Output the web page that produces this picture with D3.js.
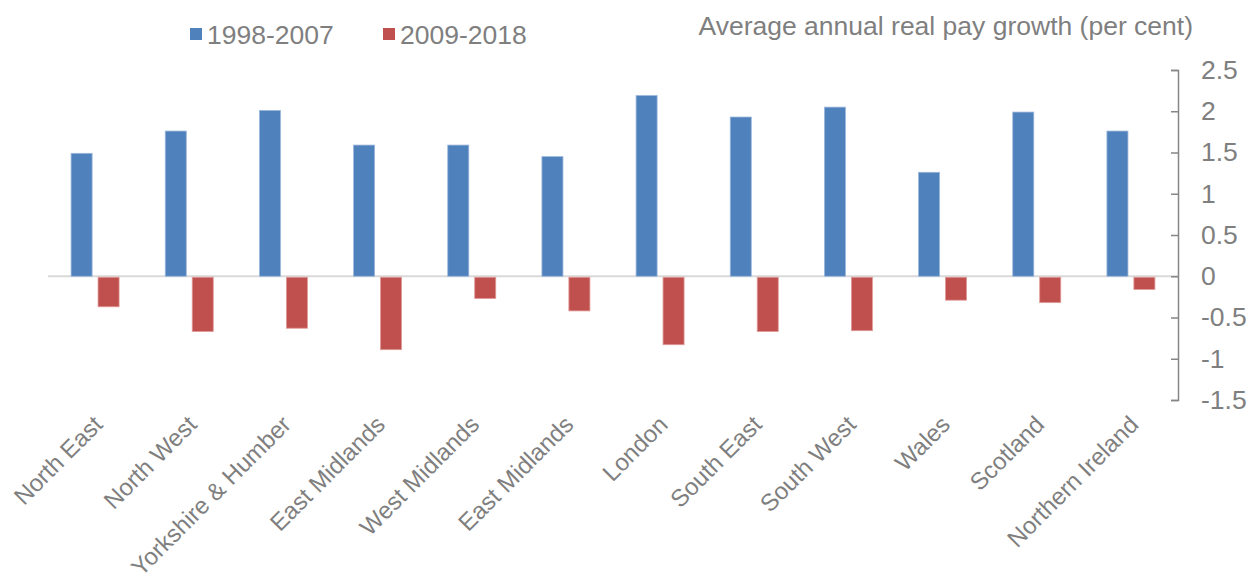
<!DOCTYPE html>
<html>
<head>
<meta charset="utf-8">
<script src="https://cdn.jsdelivr.net/npm/d3@7"></script>
<style>
    body { margin: 0; background: #fff; }
    text { font-family: 'Liberation Sans', Arial, sans-serif; fill: #7f7f7f; }
</style>
</head>
<body>
<svg id="chart" width="1251" height="577"></svg>
<script>
const categories = [
    'North East', 'North West', 'Yorkshire & Humber', 'East Midlands',
    'West Midlands', 'East Midlands', 'London', 'South East',
    'South West', 'Wales', 'Scotland', 'Northern Ireland'
];
const seriesNames = ['1998-2007', '2009-2018'];
const growth1998 = [1.49, 1.76, 2.01, 1.59, 1.59, 1.45, 2.19, 1.93, 2.05, 1.26, 1.99, 1.76];
const growth2009 = [-0.37, -0.67, -0.63, -0.89, -0.27, -0.42, -0.83, -0.67, -0.66, -0.29, -0.32, -0.16];
const yTicks = [-1.5, -1, -0.5, 0, 0.5, 1, 1.5, 2, 2.5];
const colors = ['#4f81bd', '#c0504d'];
const strokes = ['#9bb7da', '#e09a98'];

const svg = d3.select('#chart');
const fontSize = 26.5;
const catFontSize = 24;

// index-based band so the repeated "East Midlands" keeps its own slot
const x = d3
    .scaleBand()
    .domain(d3.range(categories.length))
    .range([48, 1178]);

const groupHalf = 24;
const x1 = d3
    .scaleBand()
    .domain(seriesNames)
    .range([x.bandwidth() / 2 - groupHalf, x.bandwidth() / 2 + groupHalf])
    .paddingInner(0.22);

const y = d3.scaleLinear().domain([-1.5, 2.5]).range([400, 70]);

const rows = categories.map((c, i) => ({
    i: i,
    name: c,
    values: [growth1998[i], growth2009[i]]
}));

// zero line
svg.append('line')
    .attr('x1', x.range()[0])
    .attr('x2', x.range()[1])
    .attr('y1', y(0))
    .attr('y2', y(0))
    .attr('stroke', '#d9d9d9')
    .attr('stroke-width', 2);

// bars
const groups = svg
    .selectAll('g.cat')
    .data(rows)
    .join('g')
    .attr('class', 'cat')
    .attr('transform', (d) => `translate(${x(d.i)},0)`);

groups
    .selectAll('rect')
    .data((d) => d.values.map((v, k) => ({ key: seriesNames[k], k: k, v: v })))
    .join('rect')
    .attr('x', (d) => x1(d.key))
    .attr('width', x1.bandwidth())
    .attr('y', (d) => (d.v >= 0 ? y(d.v) : y(0) + 1))
    .attr('height', (d) => Math.abs(y(d.v) - y(0)) - (d.v < 0 ? 1 : 0))
    .attr('fill', (d) => colors[d.k])
    .attr('stroke', (d) => strokes[d.k])
    .attr('stroke-width', 0.8);

// right value axis, ticks pointing inward
const yAxis = d3
    .axisRight(y)
    .tickValues(yTicks)
    .tickSizeInner(-7)
    .tickSizeOuter(-7)
    .tickPadding(23)
    .tickFormat((d) => String(d));

const axisG = svg
    .append('g')
    .attr('transform', `translate(${x.range()[1]},0)`)
    .call(yAxis);
axisG.select('.domain').attr('stroke', '#868686').attr('stroke-width', 1.5);
axisG.selectAll('.tick line').attr('stroke', '#868686').attr('stroke-width', 1.5);
axisG
    .selectAll('.tick text')
    .attr('font-size', fontSize)
    .attr('font-family', "'Liberation Sans', Arial, sans-serif")
    .attr('fill', '#7f7f7f');

// category labels, rotated
svg.append('g')
    .selectAll('text')
    .data(rows)
    .join('text')
    .attr('text-anchor', 'end')
    .attr('font-size', catFontSize)
    .attr('transform', (d) => `translate(${x(d.i) + x.bandwidth() / 2 + 9},426) rotate(-45)`)
    .text((d) => d.name);

// title
svg.append('text')
    .attr('x', 1193)
    .attr('y', 35)
    .attr('text-anchor', 'end')
    .attr('font-size', fontSize)
    .text('Average annual real pay growth (per cent)');

// legend
const legendX = [190, 383];
const legend = svg
    .selectAll('g.legend')
    .data(seriesNames)
    .join('g')
    .attr('class', 'legend')
    .attr('transform', (d, i) => `translate(${legendX[i]},28)`);
legend.append('rect')
    .attr('width', 12)
    .attr('height', 12)
    .attr('fill', (d, i) => colors[i]);
legend.append('text')
    .attr('x', 17)
    .attr('y', 16)
    .attr('font-size', fontSize)
    .text((d) => d);
</script>
</body>
</html>
